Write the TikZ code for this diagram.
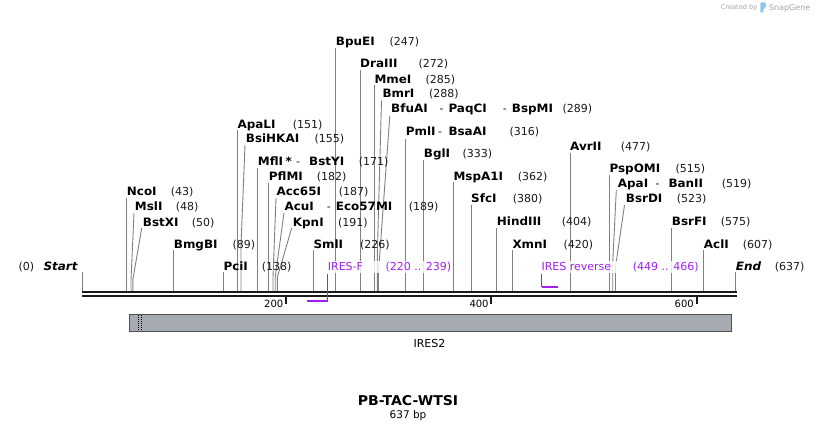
\documentclass[tikz,border=0pt]{standalone}
\usepackage{fontspec}
\setmainfont{DejaVu Sans}
\newfontfamily\bnfont[FakeStretch=1.04]{DejaVu Sans}
\definecolor{cutgray}{RGB}{128,128,128}
\definecolor{primerc}{RGB}{160,32,240}
\definecolor{bbcol}{RGB}{25,25,25}
\definecolor{featfill}{RGB}{166,171,178}
\definecolor{featdraw}{RGB}{80,80,80}
\definecolor{sglogo}{RGB}{165,165,165}
\definecolor{sgblue}{RGB}{140,200,240}
\newcommand\SiteName[4]{\node[sname] (#1) at (#2,{#3+4}) {#4};}
\newcommand\SiteItal[4]{\node[sname,font=\bnfont\bfseries\itshape\fontsize{11.5}{13}\selectfont] (#1) at (#2,{#3+4}) {#4};}
\newcommand\SiteNum[4]{\node[snum] (#1) at (#2,{#3+4}) {#4};}
\newcommand\CutLine[5]{%
  \coordinate (t#1) at (#2,#3);
  \coordinate (s#1) at (#4,#5);
  \coordinate (b#1) at (#4,291);
  \draw[cutline] (t#1) -- (s#1) -- (b#1);}
\begin{document}
\begin{tikzpicture}[x=1pt,y=-1pt,
  sname/.style={anchor=base west,inner sep=0pt,font=\bnfont\bfseries\fontsize{11.5}{13}\selectfont},
  snum/.style={anchor=base west,inner sep=0pt,font=\fontsize{11}{13}\selectfont,text=black!90},
  cutline/.style={draw=cutgray,line width=0.9pt},
  plabel/.style={anchor=base west,inner xsep=1.5pt,inner ysep=1.5pt,fill=white,fill opacity=0.8,text opacity=1,text=primerc,font=\fontsize{11}{13}\selectfont},
  ticklab/.style={anchor=base east,inner sep=0pt,font=\fontsize{10}{12}\selectfont},
  primerline/.style={draw=primerc,line width=1pt},
  primerbar/.style={draw=primerc,line width=2pt}]
\useasboundingbox (0,0) rectangle (818,430);
\fill[white] (0,0) rectangle (818,430);

% ---- cut lines ----
\CutLine{BpuEI}{335.7}{48}{335.7}{48}
\CutLine{DraIII}{360.3}{70}{360.3}{70}
\CutLine{MmeI}{374}{85}{374}{85}
\CutLine{BmrI}{381.5}{100.5}{377.3}{255}
\CutLine{BfuAI}{389.8}{116}{378.5}{272}
\CutLine{PmlI}{405.5}{139}{405.5}{139}
\CutLine{BglI}{423.7}{160}{423.7}{160}
\CutLine{MspAI}{453.3}{182.5}{453.3}{182.5}
\CutLine{SfcI}{471.3}{205}{471.3}{205}
\CutLine{HindIII}{496.5}{228}{496.5}{228}
\CutLine{XmnI}{512.3}{250}{512.3}{250}
\CutLine{AvrII}{570.3}{153}{570.3}{153}
\CutLine{PspOMI}{609.7}{175}{609.7}{175}
\CutLine{ApaI}{616.3}{190}{612.7}{263}
\CutLine{BsrDI}{624.5}{205}{615.5}{267}
\CutLine{BsrFI}{671.7}{228}{671.7}{228}
\CutLine{AclI}{703.7}{250}{703.7}{250}
\CutLine{End}{735.7}{272}{735.7}{272}
\CutLine{Start}{82.3}{272}{82.3}{272}
\CutLine{NcoI}{126.7}{198}{126.7}{198}
\CutLine{MslI}{134}{213}{131}{280}
\CutLine{BstXI}{141.7}{228}{132.8}{280}
\CutLine{BmgBI}{173.7}{250}{173.7}{250}
\CutLine{PciI}{223.3}{272}{223.3}{272}
\CutLine{ApaLI}{237.3}{130.5}{237.3}{130.5}
\CutLine{BsiHKAI}{245}{145}{241}{245}
\CutLine{MflI}{257.7}{168}{257.7}{168}
\CutLine{PflMI}{268.7}{183}{268.7}{183}
\CutLine{AccI}{276}{198}{273}{277}
\CutLine{AcuI}{284}{213}{275.2}{277}
\CutLine{KpnI}{291.7}{228}{277.4}{277}
\CutLine{SmlI}{313.3}{250}{313.3}{250}

% ---- site labels ----
\SiteName{nBpuEI}{335.7}{42}{BpuEI}\SiteNum{mBpuEI}{389.3}{42}{(247)}
\SiteName{nDraIII}{360}{63.8}{DraIII}\SiteNum{mDraIII}{418.3}{63.8}{(272)}
\SiteName{nMmeI}{374.3}{79.3}{MmeI}\SiteNum{mMmeI}{425.3}{79.3}{(285)}
\SiteName{nBmrI}{382.3}{94}{BmrI}\SiteNum{mBmrI}{429}{94}{(288)}
\SiteName{nBfuAI}{391}{109}{BfuAI}\SiteNum{d1BfuAI}{439.3}{109}{-}
\SiteName{nPaqCI}{448.3}{109}{PaqCI}\SiteNum{d2BfuAI}{502.7}{109}{-}
\SiteName{nBspMI}{511.7}{109}{BspMI}\SiteNum{mBfuAI}{562.3}{109}{(289)}
\SiteName{nPmlI}{405.7}{131.5}{PmlI}\SiteNum{dPmlI}{437.8}{131.5}{-}
\SiteName{nBsaAI}{448.3}{131.5}{BsaAI}\SiteNum{mPmlI}{509.3}{131.5}{(316)}
\SiteName{nBglI}{423.7}{153.5}{BglI}\SiteNum{mBglI}{462.3}{153.5}{(333)}
\SiteName{nMspAI}{453.3}{176.5}{MspA1I}\SiteNum{mMspAI}{517.7}{176.5}{(362)}
\SiteName{nSfcI}{471}{199}{SfcI}\SiteNum{mSfcI}{512.7}{199}{(380)}
\SiteName{nHindIII}{496.7}{221.5}{HindIII}\SiteNum{mHindIII}{561.7}{221.5}{(404)}
\SiteName{nXmnI}{512.3}{244}{XmnI}\SiteNum{mXmnI}{563.3}{244}{(420)}
\SiteName{nAvrII}{570}{146.5}{AvrII}\SiteNum{mAvrII}{620.7}{146.5}{(477)}
\SiteName{nPspOMI}{609.3}{169}{PspOMI}\SiteNum{mPspOMI}{675.3}{169}{(515)}
\SiteName{nApaI}{617.7}{184}{ApaI}\SiteNum{dApaI}{655.5}{184}{-}
\SiteName{nBanII}{668.3}{184}{BanII}\SiteNum{mApaI}{721.7}{184}{(519)}
\SiteName{nBsrDI}{625.7}{199}{BsrDI}\SiteNum{mBsrDI}{676.7}{199}{(523)}
\SiteName{nBsrFI}{671.7}{221.5}{BsrFI}\SiteNum{mBsrFI}{720.7}{221.5}{(575)}
\SiteName{nAclI}{703.7}{244}{AclI}\SiteNum{mAclI}{742.7}{244}{(607)}
\SiteItal{nEnd}{735.7}{266.5}{End}\SiteNum{mEnd}{774.7}{266.5}{(637)}
\SiteNum{mStart}{18.3}{266.5}{(0)}\SiteItal{nStart}{43.3}{266.5}{Start}
\SiteName{nNcoI}{126.7}{192}{NcoI}\SiteNum{mNcoI}{170.7}{192}{(43)}
\SiteName{nMslI}{134.7}{206.7}{MslI}\SiteNum{mMslI}{175.7}{206.7}{(48)}
\SiteName{nBstXI}{142.7}{222}{BstXI}\SiteNum{mBstXI}{191.7}{222}{(50)}
\SiteName{nBmgBI}{173.7}{244}{BmgBI}\SiteNum{mBmgBI}{232.3}{244}{(89)}
\SiteName{nPciI}{223.3}{266.5}{PciI}\SiteNum{mPciI}{261.7}{266.5}{(138)}
\SiteName{nApaLI}{237.3}{125}{ApaLI}\SiteNum{mApaLI}{292.7}{125}{(151)}
\SiteName{nBsiHKAI}{245.7}{138.7}{BsiHKAI}\SiteNum{mBsiHKAI}{314.3}{138.7}{(155)}
\SiteName{nMflI}{257.7}{161.5}{MflI}\SiteName{sMflI}{285.5}{161.5}{*}\SiteNum{dMflI}{296}{161.5}{-}
\SiteName{nBstYI}{309}{161.5}{BstYI}\SiteNum{mMflI}{358.7}{161.5}{(171)}
\SiteName{nPflMI}{268.7}{176.7}{PflMI}\SiteNum{mPflMI}{316.7}{176.7}{(182)}
\SiteName{nAccI}{276.3}{191.7}{Acc65I}\SiteNum{mAccI}{338.7}{191.7}{(187)}
\SiteName{nAcuI}{284.3}{206.7}{AcuI}\SiteNum{dAcuI}{326.7}{206.7}{-}
\SiteName{nEcoI}{335.7}{206.7}{Eco57MI}\SiteNum{mAcuI}{408.7}{206.7}{(189)}
\SiteName{nKpnI}{292.7}{222}{KpnI}\SiteNum{mKpnI}{338}{222}{(191)}
\SiteName{nSmlI}{313.3}{244}{SmlI}\SiteNum{mSmlI}{360}{244}{(226)}

% ---- primer labels ----
\node[plabel] (pF) at (326.2,270.5) {\makebox[57.6pt][l]{IRES-F}(220 .. 239)};
\node[plabel] (pR) at (539.8,270.5) {\makebox[91.4pt][l]{IRES reverse}(449 .. 466)};

% ---- backbone ----
\draw[bbcol,line width=2.2pt] (82,292) -- (736.5,292);
\draw[bbcol,line width=2.3pt] (82,296.3) -- (736.5,296.3);
\foreach \tx/\tl in {286/200,491.3/400,696.5/600}{
  \draw[bbcol,line width=2pt] (\tx,297) -- (\tx,304);
  \node[ticklab] at ({\tx-2.5},307.3) {\tl};
}

% ---- primers ----
\coordinate (fv) at (327.7,300.5);
\coordinate (fs) at (307.3,300.5);
\draw[primerline] (pF.south west -| fv) -- (fv);
\draw[primerbar] (fs) -- (fv);
\coordinate (rv) at (541.7,287.3);
\coordinate (re) at (557.7,287.3);
\draw[primerline] (pR.south west -| rv) -- (rv);
\draw[primerbar] (rv) -- (re);

% ---- feature ----
\node[draw=featdraw,fill=featfill,line width=1pt,minimum width=601.5pt,minimum height=16.5pt,inner sep=0pt,anchor=north west] (feat) at (129,314) {};
\draw[black,line width=0.6pt,dash pattern=on 1pt off 1pt] (138.4,315) -- (138.4,330);
\draw[black,line width=0.6pt,dash pattern=on 1pt off 1pt] (141.2,315) -- (141.2,330);
\node[font=\fontsize{11}{13}\selectfont,inner sep=0pt] (featlab) at (429.5,343) {IRES2};

% ---- title ----
\node[font=\bnfont\bfseries\fontsize{13.5}{16}\selectfont,anchor=base,inner sep=0pt] (title) at (408,405) {PB-TAC-WTSI};
\node[font=\fontsize{10.5}{12}\selectfont,anchor=base,inner sep=0pt] (len) at (408,418) {637 bp};

% ---- logo ----
\node[anchor=base west,inner sep=0pt,font=\fontsize{6.6}{8}\selectfont,text=sglogo] (cby) at (720.7,9.8) {Created by};
\fill[sgblue,rounded corners=1pt] (760.3,2.5) -- (765.8,2.5) -- (765.8,7.8) -- (763.3,8.8) -- (763.3,12.5) -- (760.3,12.5) -- cycle;
\node[anchor=base west,inner sep=0pt,font=\fontsize{8}{10}\selectfont,text=sglogo] (sg) at (768.8,10.6) {SnapGene};
\end{tikzpicture}
\end{document}
